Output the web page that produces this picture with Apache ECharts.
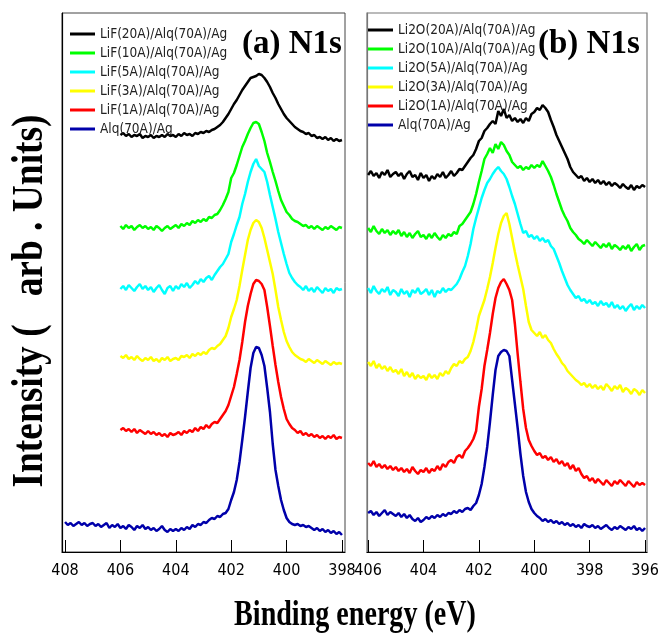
<!DOCTYPE html>
<html>
<head>
<meta charset="utf-8">
<title>N1s</title>
<script src="https://cdn.jsdelivr.net/npm/echarts@6/dist/echarts.min.js"></script>
<style>
html, body { margin: 0; padding: 0; background: #fff; }
#chart { width: 661px; height: 641px; }
</style>
</head>
<body>
<div id="chart"></div>
<script>
// energy grid: values are read every 0.1 eV, from high to low binding energy
var eStep = 0.1;
var startA = 406.0, startAlqA = 408.0, startB = 406.0;
var ticksA = [398, 400, 402, 404, 406, 408];
var ticksB = [396, 398, 400, 402, 404, 406];

var namesA = ['LiF(20A)/Alq(70A)/Ag', 'LiF(10A)/Alq(70A)/Ag', 'LiF(5A)/Alq(70A)/Ag',
              'LiF(3A)/Alq(70A)/Ag', 'LiF(1A)/Alq(70A)/Ag', 'Alq(70A)/Ag'];
var namesB = ['Li2O(20A)/Alq(70A)/Ag', 'Li2O(10A)/Alq(70A)/Ag', 'Li2O(5A)/Alq(70A)/Ag',
              'Li2O(3A)/Alq(70A)/Ag', 'Li2O(1A)/Alq(70A)/Ag', 'Alq(70A)/Ag'];
var colors = ['#000000', '#00ff00', '#00ffff', '#ffff00', '#ff0000', '#0000aa'];

// (a) intensities incl. stacking offset (arb. units), 406.0 -> 398.0
var lif20 = [417,419,416,418,415,417,416,418,414,416, 415,417,414,416,415,417,415,418,416,417,
  415,418,416,419,417,418,416,419,418,420, 419,421,420,422,423,425,427,430,434,438,
  443,448,452,457,462,466,470,474,475,476, 478,477,474,470,465,459,454,448,443,438,
  434,431,428,425,423,421,420,418,419,416, 417,414,415,413,415,412,414,411,413,411, 412];
var lif10 = [326,323,327,324,326,322,325,327,324,326, 323,325,322,326,324,321,324,326,323,325,
  327,324,328,326,329,327,331,329,332,330, 333,331,335,334,337,338,342,347,353,360,
  374,379,387,396,405,411,418,424,429,430, 428,420,411,399,390,380,371,361,352,346,
  340,337,333,331,330,328,326,327,324,326, 323,326,324,322,325,323,326,324,322,325, 324];
var lif5 = [263,266,262,267,264,261,265,268,263,266, 262,265,260,264,267,262,258,264,266,261,
  266,263,268,265,269,264,267,271,268,273, 270,274,276,272,277,281,285,288,293,298,
  310,318,327,335,348,358,370,380,388,393, 386,383,380,370,357,345,333,320,309,298,
  288,279,274,270,267,265,262,266,261,264, 260,265,262,259,264,261,263,259,264,262, 263];
var lif3 = [196,194,197,193,195,192,196,193,191,194, 192,195,191,193,190,194,192,195,191,193,
  194,192,196,195,197,194,198,196,199,197, 200,198,202,204,203,206,208,212,216,224,
  235,243,252,266,282,297,312,322,329,332, 330,324,314,302,290,278,262,245,232,220,
  211,205,200,197,195,193,192,190,193,191, 189,192,190,188,191,189,187,190,188,189, 188];
var lif1 = [122,124,121,123,120,123,119,122,120,118, 121,118,120,117,119,116,118,115,119,117,
  118,120,117,121,119,122,120,124,121,125, 123,127,124,128,130,129,133,137,141,147,
  156,165,178,192,210,230,246,258,268,272, 271,268,262,245,226,206,187,170,155,143,
  133,128,124,122,119,121,117,119,116,118, 115,117,114,116,113,116,114,117,113,115, 114];
// 408.0 -> 398.0
var alqA = [30,27,29,26,28,30,27,29,26,28, 29,26,28,25,27,29,24,27,25,28,
  24,26,23,27,25,22,26,24,27,23, 25,22,24,21,23,26,22,20,23,21,
  23,21,24,22,25,23,27,25,28,27, 30,29,32,34,33,36,35,38,39,43,
  52,60,72,90,112,135,160,184,199,205, 204,197,186,164,140,108,82,66,52,42,
  34,30,28,27,28,26,27,25,26,24, 22,24,21,23,20,22,19,21,18,20, 17];

// (b) intensities, 406.0 -> 396.0
var li2o20 = [377,381,376,379,374,380,377,382,375,378, 380,376,379,373,378,381,375,377,372,379,
  374,377,371,376,373,378,375,380,374,377, 381,376,379,383,382,386,390,394,397,403,
  411,414,421,424,428,431,428,441,436,443, 434,437,431,434,430,433,429,434,431,438,
  440,444,442,447,444,440,432,425,417,411, 405,399,393,385,380,377,374,376,371,374,
  370,373,369,372,368,371,367,370,366,369, 367,364,368,365,363,367,362,366,364,367, 365];
var li2o10 = [324,320,326,321,318,323,319,322,317,321, 318,322,316,320,315,319,314,318,321,315,
  317,313,318,314,319,315,312,317,314,318, 316,320,318,326,328,332,336,340,348,358,
  370,381,393,398,404,399,408,403,410,407, 401,397,390,387,384,386,382,385,383,387,
  384,387,385,391,386,381,375,367,358,350, 342,336,331,324,320,317,313,311,308,312,
  309,306,310,307,304,308,305,309,303,307, 305,302,306,303,307,301,305,308,302,306, 307];
var li2o5 = [264,259,266,261,258,263,260,265,257,262, 260,256,263,258,261,255,262,259,264,258,
  260,263,257,262,255,261,259,264,260,263, 262,265,268,273,280,286,296,308,323,334,
  344,354,362,369,373,378,382,385,381,378, 373,365,356,348,338,328,319,321,315,317,
  313,316,311,314,310,312,306,303,296,289, 281,274,267,262,258,254,256,251,253,249,
  252,248,250,246,251,247,249,245,250,244, 247,243,246,241,245,248,242,246,243,247, 244];
var li2o3 = [190,186,191,184,188,183,186,181,185,180, 182,178,183,176,180,175,179,173,177,174,
  176,172,178,174,177,173,179,176,181,178, 184,188,186,191,189,193,195,201,210,222,
  236,244,252,263,275,289,304,318,329,336, 339,328,314,300,287,275,263,246,230,222,
  219,216,220,214,217,212,209,203,198,194, 189,186,181,178,175,172,170,167,169,165,
  168,164,167,163,166,162,168,165,161,166, 163,167,160,164,162,158,163,161,157,162, 159];
var li2o1 = [89,86,91,85,88,84,87,83,86,82, 85,81,84,80,83,79,85,81,78,82,
  80,84,79,83,81,86,82,88,85,90, 92,89,95,97,94,101,104,108,113,121,
  145,163,186,202,219,238,254,264,270,273, 268,262,252,228,198,170,143,124,112,106,
  101,97,99,94,96,92,95,90,93,88, 91,86,89,83,87,81,84,78,74,76,
  71,74,69,73,70,67,72,69,66,71, 68,72,69,66,71,68,65,70,67,69, 67];
var alqB = [39,41,37,40,36,39,42,37,40,38, 36,39,35,38,34,37,33,31,34,30,
  32,35,33,36,34,37,35,38,36,39, 38,41,39,42,40,43,44,42,46,49,
  57,68,85,105,130,157,182,196,200,202, 201,196,172,148,124,98,76,60,50,43,
  39,36,34,31,33,30,32,29,31,28, 30,27,29,26,28,25,27,24,28,26,
  25,27,24,26,23,25,27,24,22,25, 23,26,24,22,25,23,26,22,24,21, 24];

var curvesA = [lif20, lif10, lif5, lif3, lif1, alqA];
var startsA = [startA, startA, startA, startA, startA, startAlqA];
var curvesB = [li2o20, li2o10, li2o5, li2o3, li2o1, alqB];

function pairs(start, vals) {
  return vals.map(function (v, i) { return [+(start - i * eStep).toFixed(1), v]; });
}

var series = [];
curvesA.forEach(function (c, k) {
  series.push({ name: namesA[k], type: 'line', xAxisIndex: 0, yAxisIndex: 0,
    data: pairs(startsA[k], c), showSymbol: false, color: colors[k],
    lineStyle: { width: 2.5 } });
});
curvesB.forEach(function (c, k) {
  series.push({ name: namesB[k], type: 'line', xAxisIndex: 1, yAxisIndex: 1,
    data: pairs(startB, c), showSymbol: false, color: colors[k],
    lineStyle: { width: 2.5 } });
});

var narrow = "'Liberation Sans Narrow', 'DejaVu Sans Condensed', 'Liberation Sans', sans-serif";
var serif = "'Liberation Serif', 'DejaVu Serif', serif";

function xAx(idx, min, max, ticks) {
  return {
    type: 'value', gridIndex: idx, min: min, max: max, inverse: true,
    axisLine: { show: true, lineStyle: { color: '#000', width: 1.2 } },
    axisTick: { show: true, inside: true, length: 12, customValues: ticks,
      lineStyle: { color: '#000', width: 1 } },
    axisLabel: { customValues: ticks, color: '#000', fontSize: 16,
      fontFamily: narrow, margin: 11 },
    splitLine: { show: false }
  };
}
function yAx(idx, lineColor) {
  return {
    type: 'value', gridIndex: idx, min: 0, max: 539,
    axisLine: { show: true, lineStyle: { color: lineColor, width: 1.2 } },
    axisTick: { show: false }, axisLabel: { show: false }, splitLine: { show: false }
  };
}

var chart = echarts.init(document.getElementById('chart'));
chart.setOption({
  animation: false,
  backgroundColor: '#fff',
  grid: [
    { left: 62, width: 283, top: 13, height: 539, show: true, borderColor: '#444',
      borderWidth: 1, outerBoundsMode: 'none', containLabel: false },
    { left: 367, width: 280, top: 13, height: 539, show: true, borderColor: '#777',
      borderWidth: 1.2, outerBoundsMode: 'none', containLabel: false }
  ],
  xAxis: [xAx(0, 397.89, 408.11, ticksA), xAx(1, 395.93, 406.04, ticksB)],
  yAxis: [yAx(0, '#000'), yAx(1, '#777')],
  legend: [
    { data: namesA, orient: 'vertical', left: 65, top: 21, itemWidth: 25, itemHeight: 3,
      icon: 'rect', itemGap: 3, selectedMode: false,
      textStyle: { fontSize: 13.5, lineHeight: 16, color: '#222', fontFamily: narrow } },
    { data: namesB, orient: 'vertical', left: 363, top: 17, itemWidth: 25, itemHeight: 3,
      icon: 'rect', itemGap: 3, selectedMode: false,
      textStyle: { fontSize: 13.5, lineHeight: 16, color: '#222', fontFamily: narrow } }
  ],
  graphic: [
    { type: 'text', left: 242, top: 28, style: { text: '(a) N1s', fontSize: 33,
      fontWeight: 'bold', fontFamily: serif, fill: '#000' } },
    { type: 'text', left: 538, top: 28, style: { text: '(b) N1s', fontSize: 33,
      fontWeight: 'bold', fontFamily: serif, fill: '#000' } },
    { type: 'text', x: 355, y: 616, scaleX: 0.78, style: { text: 'Binding energy (eV)',
      fontSize: 36, fontWeight: 'bold', fontFamily: serif, fill: '#000',
      align: 'center', verticalAlign: 'middle' } },
    { type: 'text', x: 31, y: 301, rotation: Math.PI / 2, scaleX: 0.85,
      style: { text: 'Intensity (   arb . Units)', fontSize: 44, fontWeight: 'bold',
      fontFamily: serif, fill: '#000', align: 'center', verticalAlign: 'middle' } }
  ],
  series: series
});
</script>
</body>
</html>
